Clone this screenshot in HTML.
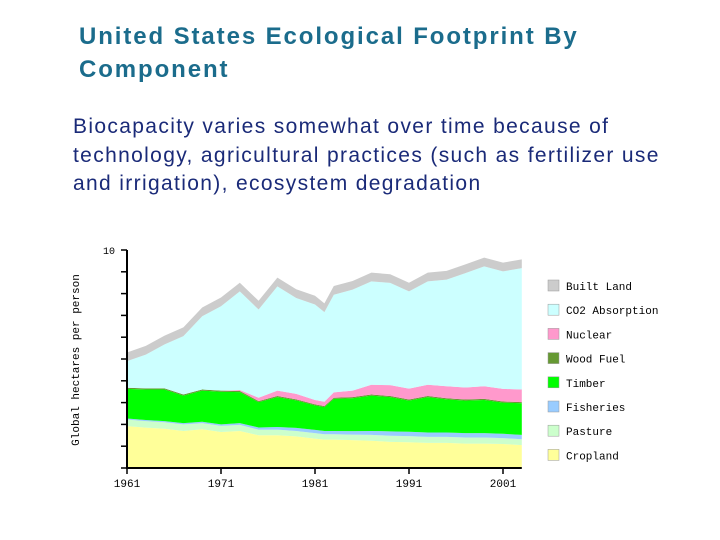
<!DOCTYPE html>
<html><head><meta charset="utf-8"><style>
body{margin:0;width:720px;height:540px;background:#fff;position:relative;overflow:hidden;font-family:"Liberation Sans",sans-serif}
.t{position:absolute;left:79px;top:20px;font-size:24px;font-weight:bold;color:#1b6c8c;line-height:33px;letter-spacing:1.9px}
.b{position:absolute;left:73px;top:113px;font-size:21px;color:#1a2a78;line-height:28.5px;letter-spacing:1.35px}
</style></head><body>
<div class="t">United States Ecological Footprint By<br>Component</div>
<div class="b">Biocapacity varies somewhat over time because of<br>technology, agricultural practices (such as fertilizer use<br>and irrigation), ecosystem degradation</div>
<svg id="c" width="720" height="540" style="position:absolute;left:0;top:0"></svg>
<script>
const years=[1961,1963,1965,1967,1969,1971,1973,1975,1977,1979,1981,1982,1983,1985,1987,1989,1991,1993,1995,1997,1999,2001,2003];
const cropland=[1.92,1.85,1.8,1.7,1.78,1.65,1.7,1.5,1.5,1.45,1.35,1.3,1.3,1.28,1.25,1.2,1.18,1.15,1.15,1.12,1.12,1.1,1.05];
const pasture=[0.3,0.3,0.3,0.3,0.28,0.28,0.28,0.26,0.26,0.25,0.25,0.25,0.25,0.25,0.27,0.28,0.28,0.28,0.28,0.28,0.28,0.27,0.27];
const fisheries=[0.05,0.05,0.05,0.06,0.06,0.07,0.08,0.1,0.12,0.14,0.15,0.15,0.15,0.16,0.18,0.2,0.2,0.2,0.2,0.2,0.2,0.2,0.2];
const timber=[1.36,1.4,1.45,1.26,1.43,1.5,1.42,1.16,1.37,1.26,1.12,1.09,1.47,1.51,1.62,1.57,1.43,1.62,1.52,1.49,1.52,1.43,1.45];
const woodFuel=[0.05,0.05,0.05,0.05,0.05,0.05,0.05,0.05,0.05,0.05,0.05,0.05,0.05,0.05,0.05,0.05,0.05,0.05,0.05,0.05,0.05,0.05,0.05];
const nuclear=[0,0,0,0,0,0,0.05,0.15,0.25,0.25,0.2,0.2,0.25,0.3,0.45,0.5,0.5,0.52,0.55,0.55,0.58,0.58,0.58];
const co2=[1.22,1.55,2.02,2.68,3.36,3.87,4.52,4.05,4.78,4.4,4.38,4.11,4.48,4.63,4.74,4.69,4.46,4.74,4.89,5.25,5.5,5.39,5.57];
const builtLand=[0.4,0.4,0.4,0.4,0.4,0.4,0.4,0.4,0.4,0.4,0.4,0.4,0.4,0.4,0.4,0.4,0.4,0.4,0.4,0.4,0.4,0.4,0.4];
const xTicks=[1961,1971,1981,1991,2001];
const yTicks=[0,1,2,3,4,5,6,7,8,9,10];
const series=[["cropland",cropland,"#ffff99","Cropland"],["pasture",pasture,"#ccffcc","Pasture"],["fisheries",fisheries,"#99ccff","Fisheries"],["timber",timber,"#00ff00","Timber"],["wood-fuel",woodFuel,"#669933","Wood Fuel"],["nuclear",nuclear,"#ff99cc","Nuclear"],["co2-absorption",co2,"#ccffff","CO2 Absorption"],["built-land",builtLand,"#cccccc","Built Land"]];
const X=y=>127+(y-1961)*9.4, Y=v=>468-v*21.8;
const svg=document.getElementById('c'),NS='http://www.w3.org/2000/svg';
function mk(t,a){const e=document.createElementNS(NS,t);for(const k in a)e.setAttribute(k,a[k]);svg.appendChild(e);return e;}
let base=years.map(()=>0);
series.forEach(s=>{const top=base.map((b,i)=>b+s[1][i]);
 let d='M'+years.map((y,i)=>X(y)+','+Y(top[i])).join('L')+'L'+years.slice().reverse().map((y,j)=>{const i=years.length-1-j;return X(y)+','+Y(base[i]);}).join('L')+'Z';
 const p=mk('path',{d:d,fill:s[2]});
 
 
 base=top;});
const ax=mk('path',{d:`M${X(1961)},${Y(10)}V${Y(0)}H${X(2003)}`,stroke:'#000','stroke-width':2,fill:'none'});


yTicks.forEach(v=>{const l=mk('line',{x1:X(1961)-6,x2:X(1961),y1:Y(v),y2:Y(v),stroke:'#000','stroke-width':1.5});
 
 });
const yl=mk('text',{x:X(1961)-24,y:Y(10)+4,'font-size':10,'font-family':'Liberation Mono,monospace'});yl.textContent='10';


xTicks.forEach(v=>{const l=mk('line',{x1:X(v),x2:X(v),y1:Y(0),y2:Y(0)+6,stroke:'#000','stroke-width':1.5});
 
 
 const t=mk('text',{x:X(v),y:487,'font-size':11,'text-anchor':'middle','font-family':'Liberation Mono,monospace'});t.textContent=v;
 
 });
const yt=mk('text',{x:0,y:0,'font-size':11,'text-anchor':'middle','font-family':'Liberation Mono,monospace',transform:'translate(79,360) rotate(-90)'});yt.textContent='Global hectares per person';


series.slice().reverse().forEach((s,i)=>{const y=280+i*24.2;
 const r=mk('rect',{x:548,y:y,width:11,height:11,fill:s[2],stroke:'#999','stroke-width':0.5});
 
 
 const t=mk('text',{x:566,y:y+10,'font-size':11,'font-family':'Liberation Mono,monospace'});t.textContent=s[3];
 
 });
</script>
</body></html>
